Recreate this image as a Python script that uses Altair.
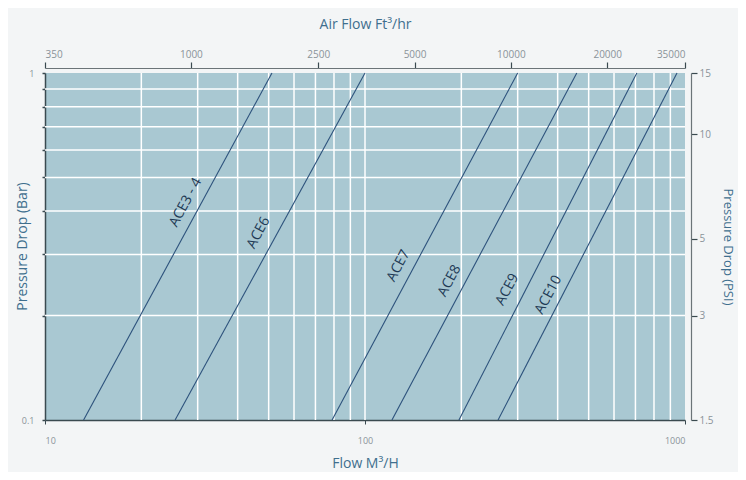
import altair as alt
import pandas as pd

# ---- data ----
series = ["ACE3 - 4", "ACE6", "ACE7", "ACE8", "ACE9", "ACE10"]
# flow (m3/h) where each line meets 0.1 bar and 1 bar
flow_at_low = [13.2, 25.5, 78.9, 121.4, 196.6, 260.5]
flow_at_high = [51.2, 100.0, 300.0, 459.0, 707.0, 944.0]
p_low, p_high = 0.1, 1.0

# label anchor (flow, bar) for each line's text
label_flow = [28.4, 48.0, 131.5, 189.7, 287.7, 386.7]
label_bar = [0.417, 0.341, 0.274, 0.248, 0.234, 0.226]

x_grid = [20, 30, 40, 50, 60, 70, 80, 90, 100, 200, 300, 400, 500, 600, 700, 800, 900]
y_grid = [0.2, 0.3, 0.4, 0.5, 0.6, 0.7, 0.8, 0.9]
y_ticks = [0.1, 0.2, 0.3, 0.4, 0.5, 0.6, 0.7, 0.8, 0.9, 1.0]
x_ticks = [10, 100, 1000]
ft3_ticks = [350, 1000, 2500, 5000, 10000, 20000, 35000]
psi_ticks = [1.5, 3, 5, 10, 15]

FONT = "Open Sans"
TITLE_C = "#3f6f8e"
LABEL_C = "#8a9399"
AXIS_C = "#3a4a50"

lines_df = pd.DataFrame(
    [{"series": s, "flow": a, "bar": p_low} for s, a in zip(series, flow_at_low)]
    + [{"series": s, "flow": b, "bar": p_high} for s, b in zip(series, flow_at_high)]
)
labels_df = pd.DataFrame({"series": series, "flow": label_flow, "bar": label_bar})
xg_df = pd.DataFrame({"flow": x_grid})
yg_df = pd.DataFrame({"bar": y_grid})
sec_df = pd.DataFrame({"ft3": [ft3_ticks[0], ft3_ticks[-1]], "psi": [psi_ticks[0], psi_ticks[-1]]})

xs = alt.Scale(type="log", domain=[10, 1000], nice=False)
ys = alt.Scale(type="log", domain=[0.1, 1], nice=False)

x_axis = alt.Axis(
    values=x_ticks, format="d", grid=False, tickSize=4, tickColor=AXIS_C,
    domainColor=AXIS_C, domainWidth=1.5, labelColor=LABEL_C, labelFontSize=9,
    labelPadding=12, labelFont=FONT, title="Flow M³/H", titleFont=FONT,
    titleFontSize=14, titleFontWeight="normal", titleColor=TITLE_C, titlePadding=11,
    labelOverlap=False,
)
y_axis = alt.Axis(
    values=y_ticks, grid=False, tickSize=3, tickColor=AXIS_C, tickWidth=1.5,
    domainColor=AXIS_C, domainWidth=1.5, labelColor=LABEL_C, labelFontSize=9,
    labelPadding=8, labelFont=FONT, labelOverlap=False,
    labelExpr="(datum.value == 0.1 || datum.value == 1) ? format(datum.value, '~g') : ''",
    title="Pressure Drop (Bar)", titleFont=FONT, titleFontSize=14,
    titleFontWeight="normal", titleColor=TITLE_C, titleX=-23, titleY=173,
    titleBaseline="middle",
)

xgrid = alt.Chart(xg_df).mark_rule(color="white", strokeWidth=1.5).encode(
    x=alt.X("flow:Q", scale=xs, axis=x_axis)
)
ygrid = alt.Chart(yg_df).mark_rule(color="white", strokeWidth=1.5).encode(
    y=alt.Y("bar:Q", scale=ys, axis=y_axis)
)
lines = alt.Chart(lines_df).mark_line(color="#2d527c", strokeWidth=1.1).encode(
    x=alt.X("flow:Q", scale=xs),
    y=alt.Y("bar:Q", scale=ys),
    detail="series:N",
)
texts = alt.Chart(labels_df).mark_text(
    angle=298, font=FONT, fontSize=14, color="#1e3a55", baseline="middle",
    align="center", dy=-5,
).encode(
    x=alt.X("flow:Q", scale=xs),
    y=alt.Y("bar:Q", scale=ys),
    text="series:N",
)

main = alt.layer(xgrid, ygrid, lines, texts)

secondary = alt.Chart(sec_df).mark_point(opacity=0).encode(
    x=alt.X(
        "ft3:Q",
        scale=alt.Scale(type="log", domain=[ft3_ticks[0], ft3_ticks[-1]], nice=False),
        axis=alt.Axis(
            orient="top", values=ft3_ticks, format="d", grid=False, offset=5,
            tickSize=6, tickColor=AXIS_C, tickWidth=1.2, domainColor="#6b7478",
            domainWidth=1.2, labelColor=LABEL_C, labelFontSize=10, labelFont=FONT,
            labelPadding=3, labelOverlap=False, title="Air Flow Ft³/hr",
            titleFont=FONT, titleFontSize=14, titleFontWeight="normal",
            titleColor=TITLE_C, titlePadding=18,
        ),
    ),
    y=alt.Y(
        "psi:Q",
        scale=alt.Scale(type="log", domain=[psi_ticks[0], psi_ticks[-1]], nice=False),
        axis=alt.Axis(
            orient="right", values=psi_ticks, format="~g", grid=False, offset=6,
            tickSize=6, tickColor=AXIS_C, tickWidth=1.2, domainColor="#6b7478",
            domainWidth=1.2, labelColor=LABEL_C, labelFontSize=10, labelFont=FONT,
            labelPadding=2, labelOverlap=False, title="Pressure Drop (PSI)",
            titleFont=FONT, titleFontSize=13, titleFontWeight="normal",
            titleColor=TITLE_C, titlePadding=7,
        ),
    ),
)

chart = (
    alt.layer(main, secondary)
    .resolve_scale(x="independent", y="independent")
    .properties(
        width=640, height=347,
        autosize=alt.AutoSizeParams(type="none"),
        padding={"left": 37, "top": 65, "right": 53, "bottom": 52},
        background="#f3f5f6",
    )
    .configure_view(fill="#a9c8d2", strokeWidth=0)
)

chart.save("out.html", embed_options={"renderer": "svg", "actions": False})
